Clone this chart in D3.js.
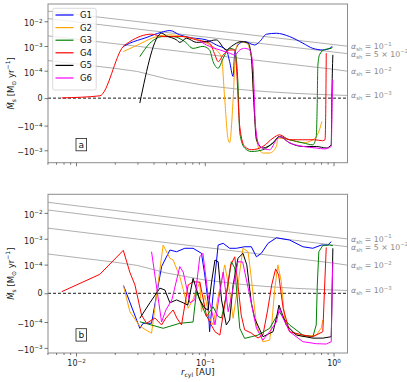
<!DOCTYPE html>
<html>
<head>
<meta charset="utf-8">
<script src="https://cdn.jsdelivr.net/npm/d3@7"></script>
<style>
body { margin: 0; background: #fff; }
text { font-family: "DejaVu Sans", sans-serif; }
</style>
</head>
<body>
<div class="container"></div>
<script>
// ----- DATA -----
const groups = ["G1", "G2", "G3", "G4", "G5", "G6"];
const colors = ["#0000ff", "#ffa500", "#008000", "#ff0000", "#000000", "#ff00ff"];

// panel a : [r_cyl (AU), Mdot (Msun/yr)]
const a_G1 = [[0.0233,9.6e-4],[0.0262,1.3e-3],[0.0343,2.1e-3],[0.0462,3.6e-3],[0.0536,4.2e-3],[0.064,2.8e-3],[0.0766,2.2e-3],[0.103,1.76e-3],[0.123,1.1e-3],[0.147,6.9e-4],[0.156,2.33e-4],[0.166,7.9e-5],[0.171,5.2e-4],[0.187,1.3e-3],[0.204,1.5e-3],[0.244,1.1e-3],[0.267,1.5e-3],[0.301,2.98e-3],[0.36,3.27e-3],[0.456,2.4e-3],[0.578,1.3e-3],[0.691,8.0e-4],[0.826,6.9e-4],[0.931,8.0e-4],[0.977,9.6e-4]];
const a_G2 = [[0.0233,5.9e-4],[0.0313,1.21e-3],[0.0422,2.4e-3],[0.0536,2.8e-3],[0.0675,2.4e-3],[0.103,1.3e-3],[0.123,6.9e-4],[0.135,3.3e-4],[0.143,-6e-6],[0.152,-3.75e-4],[0.156,-4.9e-4],[0.166,-6e-6],[0.174,6.9e-4],[0.187,1.5e-3],[0.211,1.3e-3],[0.23,3.7e-4],[0.244,-6.7e-5],[0.259,-7e-4],[0.283,-1.29e-3],[0.319,-1.29e-3],[0.36,-7e-4],[0.37,-3.2e-4],[0.456,-3.75e-4],[0.578,-4.96e-4],[0.691,-3.75e-4],[0.778,-1.48e-4],[0.812,-8.5e-5]];
const a_G3 = [[0.0313,3.7e-4],[0.0375,1.3e-3],[0.0475,2.4e-3],[0.0568,2.4e-3],[0.07,1.5e-3],[0.0811,8e-4],[0.0967,9.6e-4],[0.109,6.9e-4],[0.116,2.33e-4],[0.127,1.26e-4],[0.139,3.2e-4],[0.156,8e-4],[0.171,6.9e-4],[0.181,5.6e-5],[0.187,-1.95e-4],[0.204,-8.1e-4],[0.23,-1.12e-3],[0.283,-9.5e-4],[0.339,-5e-4],[0.381,-2.8e-4],[0.456,-3.75e-4],[0.578,-5e-4],[0.691,-6e-4],[0.734,-2.8e-4],[0.748,-6e-6],[0.755,1.47e-4],[0.778,4.35e-4],[0.851,7.2e-4],[0.96,8e-4],[0.982,9.2e-4]];
const a_G4 = [[0.00774,8e-7],[0.0153,8.4e-6],[0.0233,9.6e-4],[0.0262,1.5e-3],[0.0386,3e-3],[0.0475,2.4e-3],[0.068,2.4e-3],[0.0862,1.76e-3],[0.109,1.3e-3],[0.12,4.35e-4],[0.127,2.33e-4],[0.139,4.35e-4],[0.156,6.9e-4],[0.171,6.9e-4],[0.176,1.47e-4],[0.187,-1.1e-4],[0.204,-7e-4],[0.23,-9.5e-4],[0.283,-7e-4],[0.339,-3.2e-4],[0.381,-2.36e-4],[0.456,-3.75e-4],[0.578,-3.75e-4],[0.712,-3.75e-4],[0.822,-4.1e-4],[0.859,-3.75e-4],[0.872,-6e-6],[0.878,5.1e-4]];
const a_G5 = [[0.0313,-1.8e-5],[0.0462,3.27e-3],[0.0505,2.55e-3],[0.0604,1.76e-3],[0.064,1.4e-3],[0.0722,2.05e-3],[0.0862,1.4e-3],[0.103,1.5e-3],[0.123,1.76e-3],[0.147,6.9e-4],[0.161,9.6e-4],[0.176,1.3e-3],[0.192,1.5e-3],[0.217,1.3e-3],[0.23,3.7e-4],[0.24,-6e-6],[0.252,-3.75e-4],[0.283,-8.1e-4],[0.339,-5e-4],[0.381,-2.8e-4],[0.456,-5e-4],[0.578,-7e-4],[0.734,-7e-4],[0.878,-8.1e-4],[0.96,-6e-4],[0.97,-6e-6],[0.988,4.35e-4]];
const a_G6 = [[0.0915,1.6e-3],[0.103,1.1e-3],[0.131,6.9e-4],[0.156,5.1e-4],[0.171,4.35e-4],[0.187,6.9e-4],[0.204,8e-4],[0.223,6.9e-4],[0.237,1.47e-4],[0.248,-1.1e-4],[0.267,-7e-4],[0.319,-9.5e-4],[0.36,-3.75e-4],[0.381,-2.8e-4],[0.456,-5e-4],[0.578,-7e-4],[0.734,-8.1e-4],[0.851,-8.8e-4],[0.96,-7e-4],[0.977,-6e-6],[0.988,6.7e-5]];

// panel b
const b_G1 = [[0.0233,2.9e-5],[0.0313,-1.75e-4],[0.0332,-1.12e-4],[0.0386,-1.12e-4],[0.0462,9.3e-5],[0.0536,3.66e-4],[0.0604,3.14e-4],[0.07,4.27e-4],[0.0811,4.27e-4],[0.0943,2.73e-4],[0.1,6.4e-5],[0.106,-2.9e-5],[0.109,-2.37e-4],[0.116,-6e-6],[0.127,5.7e-4],[0.139,6.65e-4],[0.156,4.27e-4],[0.176,4.27e-4],[0.204,4.9e-4],[0.23,4.9e-4],[0.252,2.0e-4],[0.275,2.73e-4],[0.31,6.65e-4],[0.36,1.09e-3],[0.456,8.9e-4],[0.578,4.9e-4],[0.691,4.27e-4],[0.803,5.7e-4],[0.903,5.7e-4],[0.96,7.7e-4]];
const b_G2 = [[0.0233,2.9e-5],[0.0262,-6.4e-5],[0.0313,-1.46e-4],[0.0386,-2.73e-4],[0.0475,5.7e-4],[0.0536,1.75e-4],[0.0568,1.5e-4],[0.064,5.8e-5],[0.0743,-5.2e-5],[0.0807,-2.3e-5],[0.0915,4e-5],[0.0943,-6.4e-5],[0.1,-6e-6],[0.109,-8.7e-5],[0.116,-1.3e-4],[0.127,-1.2e-5],[0.143,9.9e-5],[0.156,6e-6],[0.166,-8.7e-5],[0.181,2.9e-5],[0.198,4.27e-4],[0.217,3.14e-4],[0.23,5.2e-5],[0.252,-1.3e-4],[0.283,-5.8e-4],[0.319,-5e-4],[0.331,-1.3e-4],[0.349,1.3e-5],[0.37,9.9e-5],[0.393,4e-5],[0.417,-8.7e-5],[0.456,-2.37e-4],[0.578,-3.7e-4],[0.734,-3.2e-4],[0.803,-1.7e-4],[0.826,-9.3e-5]];
const b_G3 = [[0.0313,-9.9e-5],[0.0475,-1.75e-4],[0.064,-1.12e-4],[0.0811,-1.0e-4],[0.0862,5.6e-6],[0.0915,-2.3e-5],[0.103,-8.1e-5],[0.116,-4.7e-5],[0.127,-8.1e-5],[0.135,-8.6e-5],[0.147,-6e-6],[0.161,1.29e-4],[0.171,8.8e-5],[0.187,-1.75e-4],[0.204,-4.3e-4],[0.23,-3.7e-4],[0.259,-3.2e-4],[0.319,-1.75e-4],[0.36,-8.1e-5],[0.381,-6.4e-5],[0.406,-8.6e-5],[0.456,-1.3e-4],[0.578,-3.2e-4],[0.691,-3.7e-4],[0.734,-1.3e-4],[0.748,2.9e-5],[0.769,3.14e-4],[0.826,5.5e-4],[0.931,5.7e-4],[0.988,5.4e-4]];
const b_G4 = [[0.00774,5.6e-6],[0.0153,6.6e-5],[0.0233,3.56e-4],[0.0262,7.3e-5],[0.0287,2.9e-5],[0.0323,-7.6e-5],[0.0353,-1.12e-4],[0.041,-8.6e-5],[0.0462,-1.3e-4],[0.0499,-8.6e-5],[0.0568,-5.8e-5],[0.0607,-8.6e-5],[0.066,-1.3e-4],[0.0743,2.9e-5],[0.0811,4e-5],[0.0915,3.9e-5],[0.103,-7.6e-5],[0.109,-1.0e-4],[0.12,-2.37e-4],[0.131,-3.2e-4],[0.147,-6e-6],[0.159,9.9e-5],[0.171,2.0e-4],[0.181,2.9e-5],[0.192,-7.6e-5],[0.204,-2.0e-4],[0.23,-2.7e-4],[0.259,-4.15e-4],[0.283,-3.2e-4],[0.308,-5.8e-5],[0.331,2.9e-5],[0.355,8.5e-5],[0.375,6.4e-5],[0.406,-5.2e-5],[0.456,-2.37e-4],[0.578,-3.2e-4],[0.691,-3.7e-4],[0.826,-2.37e-4],[0.851,1.2e-5],[0.878,4.6e-4]];
const b_G5 = [[0.0313,-8.7e-5],[0.0375,-3.3e-5],[0.0448,1.8e-5],[0.049,1.15e-5],[0.0536,-3.3e-5],[0.0604,-2.3e-5],[0.068,-3.3e-5],[0.0738,-4.1e-5],[0.0811,5.2e-5],[0.0915,-2.3e-5],[0.1,-5.2e-5],[0.106,-5.8e-5],[0.113,4e-5],[0.12,1.5e-4],[0.127,1.29e-4],[0.135,-2.3e-5],[0.147,-1.3e-4],[0.156,-9.3e-5],[0.166,2.9e-5],[0.181,1.75e-4],[0.198,2.73e-4],[0.212,9.9e-5],[0.23,-3.3e-5],[0.244,-8.7e-5],[0.283,-3.7e-4],[0.339,-2.37e-4],[0.36,-8.6e-5],[0.377,-4.1e-5],[0.395,-6.6e-5],[0.43,-1.3e-4],[0.514,-3.2e-4],[0.691,-4.2e-4],[0.826,-4.2e-4],[0.96,-3.7e-4],[0.977,2.9e-5],[0.988,4.27e-4]];
const b_G6 = [[0.0386,3.14e-4],[0.0462,-1.0e-4],[0.0499,-5.8e-5],[0.0555,-2.3e-5],[0.064,9.3e-5],[0.068,7.4e-5],[0.0766,-3.3e-5],[0.0836,-2.3e-5],[0.0915,2.0e-4],[0.0967,2.73e-4],[0.106,-6e-6],[0.12,-1.3e-4],[0.128,-2.3e-5],[0.139,7.4e-5],[0.152,-6.4e-5],[0.165,1.15e-5],[0.181,1.29e-4],[0.197,1.26e-4],[0.223,-6e-6],[0.252,-1.75e-4],[0.283,-5e-4],[0.319,-2.37e-4],[0.36,-1.0e-4],[0.381,-5.2e-5],[0.406,-8.7e-5],[0.456,-2.37e-4],[0.578,-5.77e-4],[0.734,-6.9e-4],[0.878,-7.1e-4],[0.96,-5.77e-4],[0.977,2.9e-5],[0.988,1.29e-4]];

// shear-viscosity reference lines, sampled at rRef
const rRef = [0.00606, 0.01, 0.02, 0.03, 0.05, 0.1, 0.2, 0.3, 0.5, 1, 1.284];
const sh_1e1 = [2.57e-2, 1.89e-2, 1.24e-2, 9.7e-3, 7.1e-3, 4.64e-3, 3.04e-3, 2.37e-3, 1.74e-3, 1.14e-3, 9.8e-4];
const sh_5e2 = [1.29e-2, 9.5e-3, 6.2e-3, 4.85e-3, 3.55e-3, 2.32e-3, 1.52e-3, 1.19e-3, 8.7e-4, 5.7e-4, 4.9e-4];
const sh_1e2 = [2.57e-3, 1.89e-3, 1.24e-3, 9.7e-4, 7.1e-4, 4.64e-4, 3.04e-4, 2.37e-4, 1.74e-4, 1.14e-4, 9.8e-5];
const sh_1e3 = [2.57e-4, 1.89e-4, 1.24e-4, 9.7e-5, 7.1e-5, 4.64e-5, 3.04e-5, 2.37e-5, 1.74e-5, 1.14e-5, 9.8e-6];
const shMant = ["", "5 \u00d7 ", "", ""];
const shExp = ["\u22121", "\u22122", "\u22122", "\u22123"];

const yTicks = [-1e-3, -1e-4, 0, 1e-4, 1e-3, 1e-2];
const xMajor = [1e-2, 1e-1, 1];
const xMinor = [6e-3,7e-3,8e-3,9e-3,2e-2,3e-2,4e-2,5e-2,6e-2,7e-2,8e-2,9e-2,0.2,0.3,0.4,0.5,0.6,0.7,0.8,0.9];

// ----- LAYOUT -----
const W = 407, H = 382;
const left = 48, right = 347.5;
const panels = [
  { top: 4, bottom: 162.7, dom: [-3.18e-3, 0.05], series: [a_G1, a_G2, a_G3, a_G4, a_G5, a_G6], tag: "a", labels: false, legend: true, curve: d3.curveMonotoneX },
  { top: 194.3, bottom: 353, dom: [-1.58e-3, 0.0524], series: [b_G1, b_G2, b_G3, b_G4, b_G5, b_G6], tag: "b", labels: true, legend: false, curve: d3.curveLinear }
];

// matplotlib-style symlog (linthresh 1e-4, linscale 1)
const linthresh = 1e-4, linscale = 1 / (1 - 1 / 10);
function symT(v) {
  const a = Math.abs(v);
  const t = a <= linthresh ? a / linthresh * linscale : linscale + Math.log10(a / linthresh);
  return v < 0 ? -t : t;
}

const xScale = d3.scaleLog().domain([6.06e-3, 1.284]).range([left, right]);

const svg = d3.select(".container").append("svg")
  .attr("width", W).attr("height", H);

function powLabel(sel, pre, exp, size, supSize) {
  sel.text(null);
  sel.append("tspan").text(pre + "10");
  sel.append("tspan").attr("dy", -size * 0.45).attr("font-size", supSize + "px").text(exp);
}

panels.forEach((p, pi) => {
  const yLin = d3.scaleLinear().domain(p.dom.map(symT)).range([p.bottom, p.top]);
  const y = v => yLin(symT(v));
  const g = svg.append("g");

  const clipId = "clip" + pi;
  svg.append("clipPath").attr("id", clipId).append("rect")
    .attr("x", left).attr("y", p.top).attr("width", right - left).attr("height", p.bottom - p.top);

  const plot = g.append("g").attr("clip-path", "url(#" + clipId + ")");

  // reference lines
  const shLines = [sh_1e1, sh_5e2, sh_1e2, sh_1e3];
  const refLine = d3.line().x(d => xScale(d[0])).y(d => y(d[1]));
  shLines.forEach(vals => {
    plot.append("path")
      .attr("d", refLine(rRef.map((r, i) => [r, vals[i]])))
      .attr("fill", "none").attr("stroke", "#9a9a9a").attr("stroke-width", 0.8);
  });

  // zero line
  plot.append("line")
    .attr("x1", left).attr("x2", right).attr("y1", y(0)).attr("y2", y(0))
    .attr("stroke", "#000").attr("stroke-width", 0.9).attr("stroke-dasharray", "3,2");

  // data
  const line = d3.line().x(d => xScale(d[0])).y(d => y(d[1])).curve(p.curve);
  p.series.forEach((s, i) => {
    plot.append("path").attr("d", line(s))
      .attr("fill", "none").attr("stroke", colors[i]).attr("stroke-width", 1);
  });

  // frame
  g.append("rect").attr("x", left).attr("y", p.top)
    .attr("width", right - left).attr("height", p.bottom - p.top)
    .attr("fill", "none").attr("stroke", "#8c8c8c").attr("stroke-width", 1);

  // y axis
  const yAxis = d3.axisLeft(yLin).tickValues(yTicks.map(symT)).tickSize(3.5).tickPadding(2);
  const ya = g.append("g").attr("transform", "translate(" + left + ",0)").call(yAxis);
  ya.select(".domain").remove();
  ya.selectAll(".tick line").attr("stroke", "#555").attr("stroke-width", 0.8);
  ya.selectAll(".tick text").attr("font-size", "8px").attr("fill", "#222")
    .each(function (d, i) {
      const v = yTicks[i];
      const sel = d3.select(this);
      if (v === 0) { sel.text("0"); return; }
      const e = Math.round(Math.log10(Math.abs(v)));
      powLabel(sel, v < 0 ? "\u2212" : "", "\u2212" + Math.abs(e), 8, 5.6);
      sel.attr("dy", "0.55em");
    });

  // x axis (minor + major)
  const xa = g.append("g").attr("transform", "translate(0," + p.bottom + ")");
  xa.call(d3.axisBottom(xScale).tickValues(xMinor).tickSize(2).tickFormat(""));
  const xb = g.append("g").attr("transform", "translate(0," + p.bottom + ")");
  xb.call(d3.axisBottom(xScale).tickValues(xMajor).tickSize(3.5).tickPadding(2));
  xa.select(".domain").remove();
  xb.select(".domain").remove();
  g.selectAll(".tick line").attr("stroke", "#555").attr("stroke-width", 0.8);
  xb.selectAll(".tick text").attr("font-size", "8px").attr("fill", "#222")
    .each(function (d) {
      const sel = d3.select(this);
      if (!p.labels) { sel.remove(); return; }
      const e = Math.round(Math.log10(d));
      powLabel(sel, "", e < 0 ? "\u2212" + Math.abs(e) : "" + e, 8, 5.6);
      sel.attr("dy", "0.95em");
    });

  // alpha labels
  shLines.forEach((vals, i) => {
    const t = g.append("text").attr("x", right + 3.5).attr("y", y(vals[vals.length - 1]) + 3)
      .attr("font-size", "7.8px").attr("fill", "#8a8a8a");
    t.append("tspan").attr("font-style", "italic").text("\u03b1");
    t.append("tspan").attr("font-size", "5.4px").attr("dy", 2).text("sh");
    t.append("tspan").attr("dy", -2).text(" = " + shMant[i] + "10");
    t.append("tspan").attr("font-size", "5.4px").attr("dy", -3.5).text(shExp[i]);
  });

  // y label
  const cy = (p.top + p.bottom) / 2;
  const yl = g.append("text").attr("transform", "translate(14," + cy + ") rotate(-90)")
    .attr("text-anchor", "middle").attr("font-size", "8.5px").attr("fill", "#111");
  yl.append("tspan").attr("font-style", "italic").text("M\u0307");
  yl.append("tspan").attr("font-size", "6px").attr("dy", 2).text("s");
  yl.append("tspan").attr("dy", -2).text(" [M");
  yl.append("tspan").attr("font-size", "6px").attr("dy", 2).text("\u2299");
  yl.append("tspan").attr("dy", -2).text(" yr");
  yl.append("tspan").attr("font-size", "6px").attr("dy", -3.8).text("\u22121");
  yl.append("tspan").attr("dy", 3.8).text("]");

  // panel tag
  const tx = 81.3, ty = p.bottom - 18;
  g.append("rect").attr("x", tx - 5.3).attr("y", ty - 6.3).attr("width", 10.6).attr("height", 12.4)
    .attr("fill", "#fff").attr("stroke", "#222").attr("stroke-width", 0.8);
  g.append("text").attr("x", tx).attr("y", ty + 3.2).attr("text-anchor", "middle")
    .attr("font-size", "9px").attr("fill", "#111").text(p.tag);

  // legend
  if (p.legend) {
    const lg = g.append("g");
    lg.append("rect").attr("x", 52.7).attr("y", 8.3).attr("width", 43.5).attr("height", 81.7)
      .attr("rx", 2).attr("fill", "#fff").attr("fill-opacity", 0.8)
      .attr("stroke", "#d0d0d0").attr("stroke-width", 0.8);
    groups.forEach((name, i) => {
      const ly = 15 + i * 12.6;
      lg.append("line").attr("x1", 55.5).attr("x2", 73.5).attr("y1", ly).attr("y2", ly)
        .attr("stroke", colors[i]).attr("stroke-width", 1.2);
      lg.append("text").attr("x", 80).attr("y", ly + 3).attr("font-size", "8.5px")
        .attr("fill", "#111").text(name);
    });
  }
});

// x label
const xl = svg.append("text").attr("x", (left + right) / 2).attr("y", 375)
  .attr("text-anchor", "middle").attr("font-size", "8.5px").attr("fill", "#111");
xl.append("tspan").attr("font-style", "italic").text("r");
xl.append("tspan").attr("font-size", "6px").attr("dy", 2).text("cyl");
xl.append("tspan").attr("dy", -2).text(" [AU]");
</script>
</body>
</html>
